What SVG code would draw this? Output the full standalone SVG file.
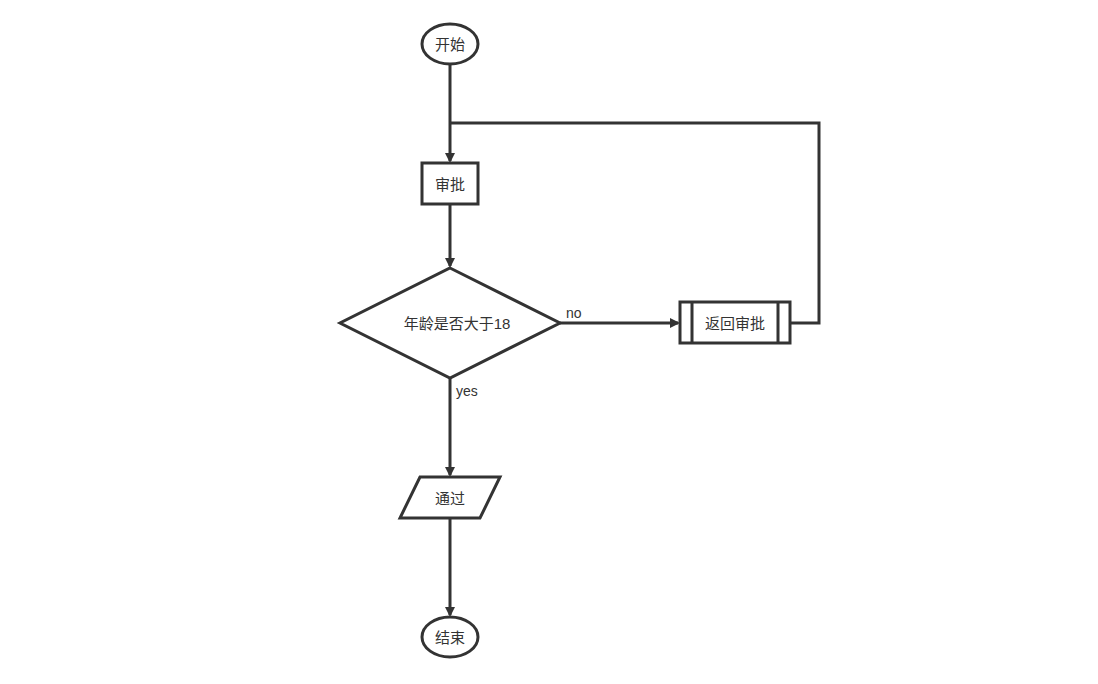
<svg xmlns="http://www.w3.org/2000/svg" width="1098" height="684" viewBox="0 0 1098 684">
<style>
.s{fill:#fff;stroke:#333;stroke-width:3}
.t{font-family:"Liberation Sans","Noto Sans CJK SC",sans-serif;font-size:15px;fill:#333;text-anchor:middle;dominant-baseline:central}
.l{font-family:"Liberation Sans",sans-serif;font-size:14px;fill:#333}
.c{fill:none;stroke:#333;stroke-width:3}
</style>
<defs><marker id="a" markerWidth="10" markerHeight="10" refX="8" refY="5" orient="auto" markerUnits="userSpaceOnUse"><path d="M0,0L10,5L0,10z" fill="#333"/></marker></defs>
<rect width="1098" height="684" fill="#fff"/>
<g id="connectors">
<path class="c" d="M450,64V161" marker-end="url(#a)"/>
<path class="c" d="M790,323H819V123H450"/>
<path class="c" d="M450,204V266" marker-end="url(#a)"/>
<path class="c" d="M560,323H678" marker-end="url(#a)"/>
<path class="c" d="M450,378V475" marker-end="url(#a)"/>
<path class="c" d="M450,518V615" marker-end="url(#a)"/>
<text class="l" x="566" y="318">no</text>
<text class="l" x="456" y="396">yes</text>
</g>
<g id="start"><ellipse class="s" cx="450" cy="44" rx="28" ry="20"/><text class="t" x="450" y="44">开始</text></g>
<g id="approve"><rect class="s" x="422" y="163" width="56" height="41"/><text class="t" x="450" y="184">审批</text></g>
<g id="decision"><path class="s" d="M450,268L560,323L450,378L340,323z"/><text class="t" x="457" y="323">年龄是否大于18</text></g>
<g id="return"><rect class="s" x="680" y="302" width="110" height="41"/><path class="c" d="M692,302V343M778,302V343"/><text class="t" x="735" y="323">返回审批</text></g>
<g id="pass"><path class="s" d="M420,477H500L480,518H400z"/><text class="t" x="450" y="498">通过</text></g>
<g id="end"><ellipse class="s" cx="450" cy="637" rx="28" ry="20"/><text class="t" x="450" y="637">结束</text></g>
</svg>
